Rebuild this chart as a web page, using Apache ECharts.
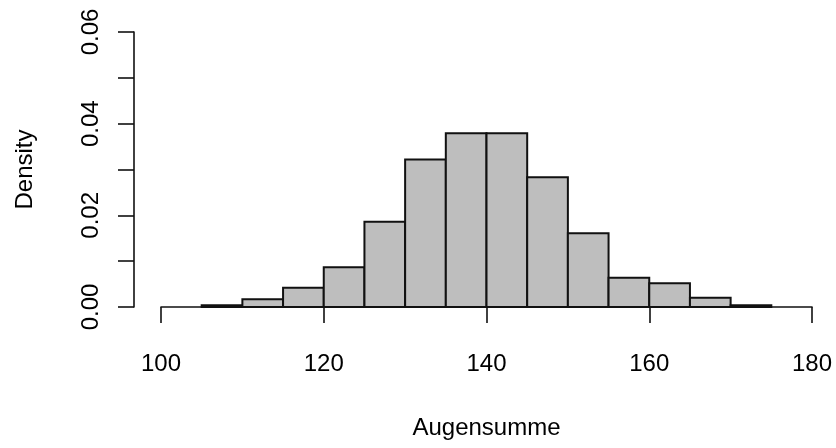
<!DOCTYPE html>
<html>
<head>
<meta charset="utf-8">
<script src="https://cdn.jsdelivr.net/npm/echarts@6/dist/echarts.min.js"></script>
<style>html,body{margin:0;padding:0;background:#fff}#c{width:836px;height:448px}</style>
</head>
<body>
<div id="c"></div>
<script>
// Histogram bins (left edges) and density values
const binStarts = [105, 110, 115, 120, 125, 130, 135, 140, 145, 150, 155, 160, 165, 170];
const binWidth = 5;
const densities = [0.0004, 0.0017, 0.0042, 0.0087, 0.0186, 0.0322, 0.0379, 0.0379, 0.0283, 0.0161, 0.0064, 0.0052, 0.0020, 0.0004];
const xTicks = [100, 120, 140, 160, 180];
const yTicks = [0, 0.02, 0.04, 0.06];

const data = binStarts.map((s, i) => [s, s + binWidth, densities[i]]);
const font = '"Liberation Sans", Arial, sans-serif';

const chart = echarts.init(document.getElementById('c'), null, {renderer: 'canvas'});
chart.setOption({
  animation: false,
  backgroundColor: '#ffffff',
  grid: {left: 161, right: 24, top: 32, bottom: 141, containLabel: false},
  xAxis: {
    type: 'value', min: xTicks[0], max: xTicks[xTicks.length - 1], interval: 20,
    offset: 11,
    name: 'Augensumme', nameLocation: 'middle', nameGap: 98,
    nameTextStyle: {fontFamily: font, fontSize: 24, color: '#000'},
    axisLine: {show: true, lineStyle: {color: '#111', width: 1.6}},
    axisTick: {show: true, length: 16, lineStyle: {color: '#111', width: 1.6}},
    axisLabel: {margin: 34, fontFamily: font, fontSize: 24, color: '#000'},
    splitLine: {show: false}
  },
  yAxis: {
    type: 'value', min: 0, max: yTicks[yTicks.length - 1], interval: 0.01,
    offset: 27,
    name: 'Density', nameLocation: 'middle', nameGap: 97,
    nameTextStyle: {fontFamily: font, fontSize: 24, color: '#000'},
    axisLine: {show: true, lineStyle: {color: '#111', width: 1.6}},
    axisTick: {show: true, length: 16, lineStyle: {color: '#111', width: 1.6}},
    axisLabel: {
      rotate: 90, margin: 31, fontFamily: font, fontSize: 24, color: '#000',
      formatter: function (v) {
        const k = Math.round(v * 100);
        return yTicks.some(t => Math.round(t * 100) === k) ? v.toFixed(2) : '';
      }
    },
    splitLine: {show: false}
  },
  series: [{
    type: 'custom',
    data: data,
    encode: {x: [0, 1], y: 2},
    renderItem: function (params, api) {
      const p0 = api.coord([api.value(0), 0]);
      const p1 = api.coord([api.value(1), api.value(2)]);
      return {
        type: 'rect',
        shape: {x: p0[0], y: p1[1], width: p1[0] - p0[0], height: p0[1] - p1[1]},
        style: {fill: '#bebebe', stroke: '#111', lineWidth: 2}
      };
    }
  }]
});
</script>
</body>
</html>
